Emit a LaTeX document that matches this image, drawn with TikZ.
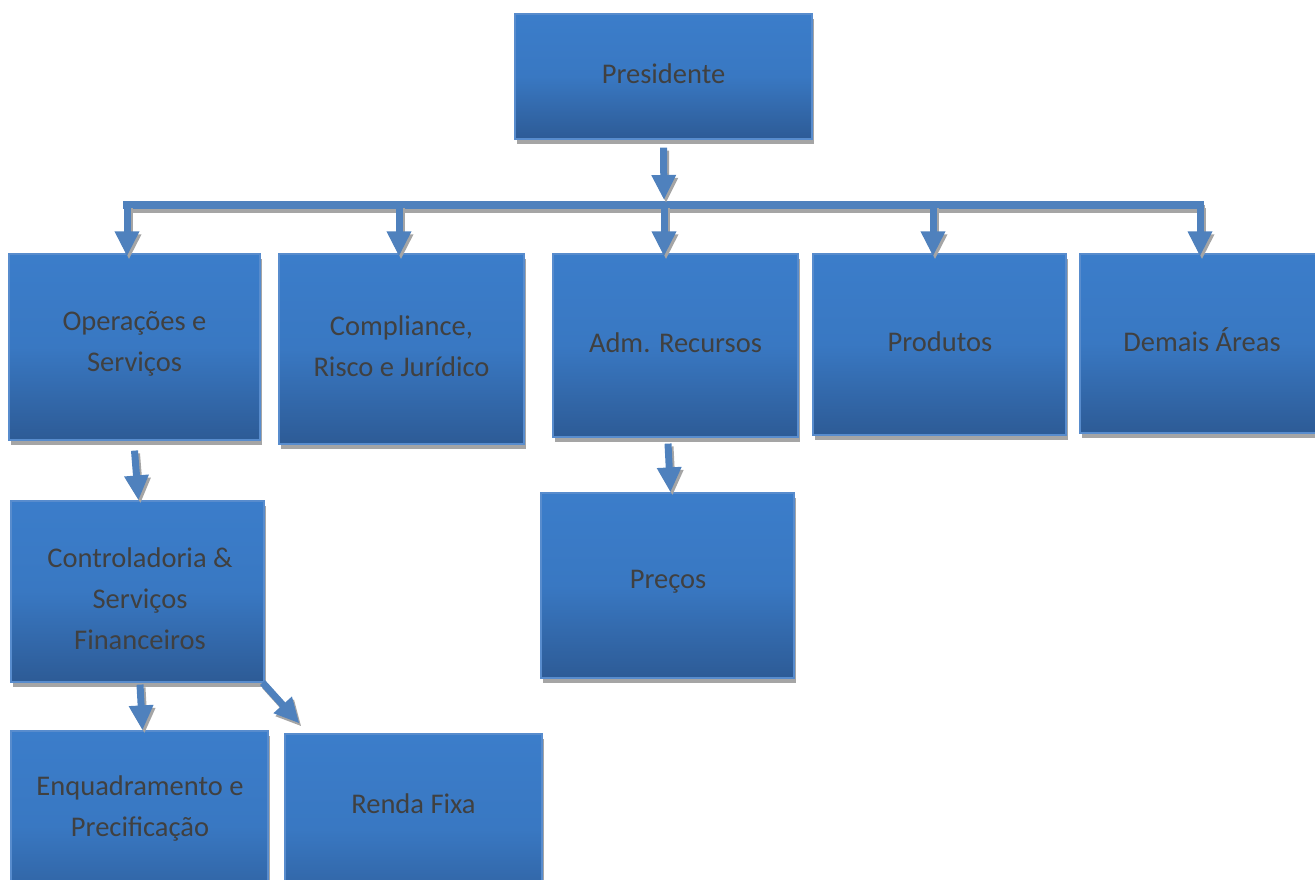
\documentclass[tikz,border=0pt]{standalone}
\usepackage{fontspec}
\setmainfont{Carlito}
\usetikzlibrary{arrows.meta,shadows}
\definecolor{btop}{RGB}{59,125,202}
\definecolor{bbot}{RGB}{45,91,150}
\definecolor{bline}{RGB}{88,140,205}
\definecolor{arrc}{RGB}{79,129,189}
\definecolor{shg}{RGB}{165,165,165}
\definecolor{txtc}{RGB}{64,64,64}
\tikzset{
  box/.style={draw=bline, line width=1.2pt, top color=btop, bottom color=bbot,
    middle color=btop!85!bbot, shading angle=0,
    drop shadow={shadow xshift=2pt, shadow yshift=-5pt, fill=shg, opacity=1},
    text=txtc, align=center, inner sep=0pt,
    font=\fontsize{28.5}{41}\selectfont},
  txt/.style={text=txtc, align=center, inner sep=0pt, font=\fontsize{28.5}{41}\selectfont},
  arr/.style={draw=arrc, line width=7pt, -{Triangle[width=23pt,length=25pt]}},
  arrsh/.style={draw=shg, line width=7pt, -{Triangle[width=23pt,length=25pt]},
    transform canvas={xshift=2pt,yshift=-3pt}},
  barl/.style={draw=arrc, line width=8pt},
  barsh/.style={draw=shg, line width=8pt, transform canvas={xshift=1pt,yshift=-4pt}},
}
\newcommand\myarrow[2]{\draw[arrsh] #1 -- #2; \draw[arr] #1 -- #2;}
\begin{document}
\begin{tikzpicture}[x=1pt,y=1pt]
\useasboundingbox (0,0) rectangle (1315,-880);
\clip (0,0) rectangle (1315,-880);
% boxes
\node[box, minimum width=297pt, minimum height=125pt] (pres) at (663.5,-76.5) {};
\node[txt] (presT) at (663.5,-73.5) {Presidente};
\node[box, minimum width=251pt, minimum height=186pt] (ops) at (134.5,-347) {};
\node[txt] (opsT) at (134.5,-344) {Operações e\\Serviços};
\node[box, minimum width=245pt, minimum height=190pt] (comp) at (401.5,-349) {};
\node[txt] (compT) at (401.5,-346) {Compliance,\\Risco e Jurídico};
\node[box, minimum width=245pt, minimum height=183pt] (adm) at (675.5,-345.5) {};
\node[txt] (admT) at (675.5,-342.5) {Adm. Recursos};
\node[box, minimum width=253pt, minimum height=181pt] (prod) at (939.5,-344.5) {};
\node[txt] (prodT) at (940,-341.5) {Produtos};
\node[box, minimum width=238pt, minimum height=179pt] (dem) at (1199,-343.5) {};
\node[txt] (demT) at (1202,-339.5) {Demais Áreas};
\node[box, minimum width=253pt, minimum height=181pt] (ctrl) at (137.5,-591.5) {};
\node[txt] (ctrlT) at (140,-599) {Controladoria \&\\Serviços\\Financeiros};
\node[box, minimum width=253pt, minimum height=185pt] (prec) at (667.5,-585.5) {};
\node[txt] (precT) at (668,-582) {Preços};
\node[box, minimum width=257pt, minimum height=190pt] (enq) at (139.5,-826) {};
\node[txt] (enqT) at (140,-808) {Enquadramento e\\Precificação};
\node[box, minimum width=257pt, minimum height=190pt] (renda) at (413.5,-829) {};
\node[txt] (rendaT) at (413.5,-804) {Renda Fixa};
% bar
\coordinate (bL) at (123,-205);
\coordinate (bR) at (1204,-205);
\coordinate (pb) at (664,-200);
\coordinate (b1) at (127,-205);
\coordinate (b2) at (399,-205);
\coordinate (b3) at (664,-205);
\coordinate (b4) at (933,-205);
\coordinate (b5) at (1200,-205);
\draw[barsh] (bL) -- (bR);
\draw[barl] (bL) -- (bR);
\myarrow{([yshift=-8pt]pres.south)}{(pb)}
\myarrow{(b1)}{([yshift=-3pt]ops.north -| b1)}
\myarrow{(b2)}{([yshift=-3pt]comp.north -| b2)}
\myarrow{(b3)}{([yshift=-3pt]adm.north -| b3)}
\myarrow{(b4)}{([yshift=-3pt]prod.north -| b4)}
\myarrow{(b5)}{([yshift=-3pt]dem.north -| b5)}
\myarrow{([yshift=-10pt]ops.south)}{([xshift=1pt]ctrl.north)}
\myarrow{([xshift=-7.5pt,yshift=-6pt]adm.south)}{([xshift=3pt]prec.north)}
\myarrow{([xshift=2.5pt,yshift=-2pt]ctrl.south)}{([xshift=3pt]enq.north)}
\myarrow{([xshift=-2pt]ctrl.south east)}{([shift={(15pt,10pt)}]renda.north west)}
\end{tikzpicture}
\end{document}
